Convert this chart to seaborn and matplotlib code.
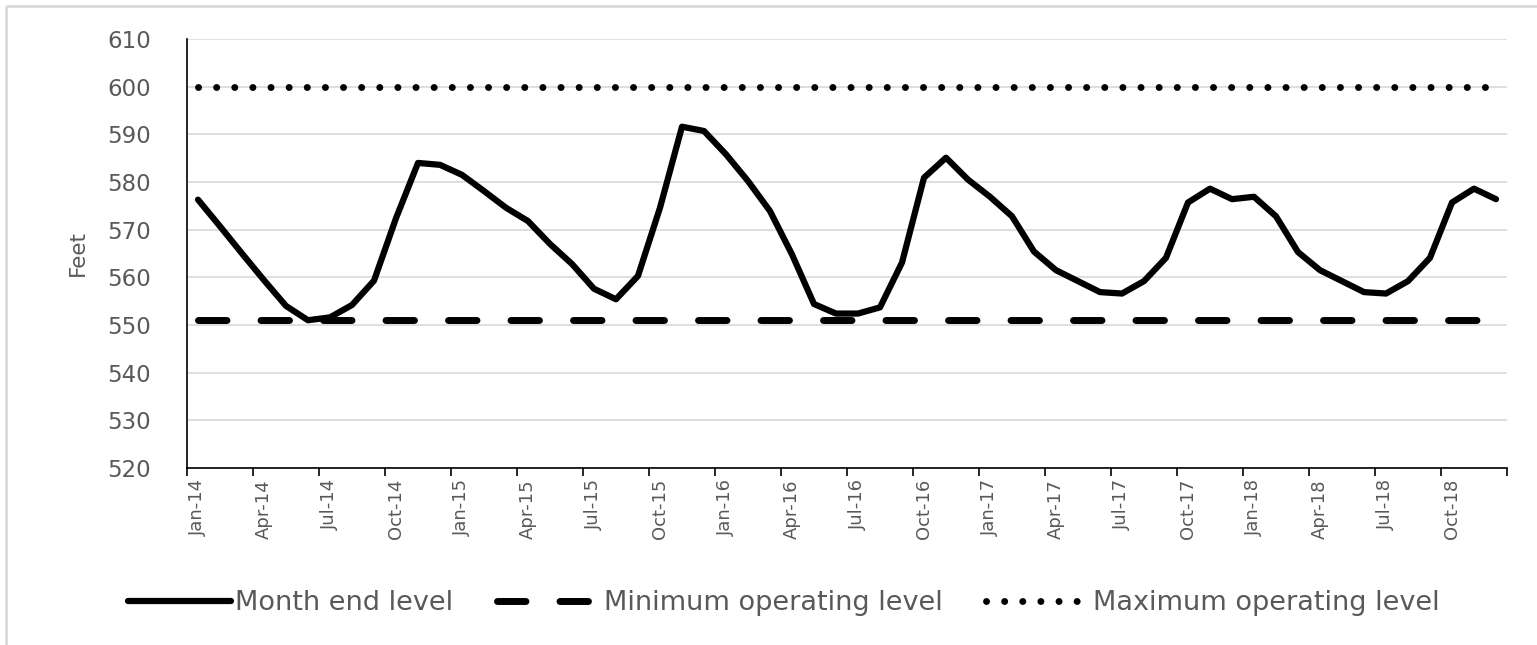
import matplotlib
matplotlib.use("Agg")
import matplotlib.pyplot as plt
from matplotlib.lines import Line2D
import numpy as np
import pandas as pd
import seaborn as sns

# ---- data ----
months = pd.date_range("2014-01-01", periods=60, freq="MS")
month_labels = [d.strftime("%b-%y") for d in months]

month_end_level = [
    576.3, 570.7, 565.0, 559.4, 554.0, 551.0, 551.6, 554.2, 559.3, 572.4, 584.0, 583.6,   # 2014
    581.5, 578.1, 574.6, 571.8, 567.0, 562.8, 557.6, 555.4, 560.3, 574.6, 591.6, 590.7,   # 2015
    585.8, 580.2, 573.9, 564.8, 554.4, 552.4, 552.4, 553.7, 563.1, 580.9, 585.1, 580.5,   # 2016
    576.9, 572.8, 565.4, 561.5, 559.2, 556.9, 556.6, 559.2, 564.1, 575.7, 578.6, 576.4,   # 2017
    576.9, 572.8, 565.3, 561.5, 559.2, 556.9, 556.6, 559.2, 564.1, 575.7, 578.6, 576.4,   # 2018
]
min_operating = [551] * 60
max_operating = [600] * 60

y_ticks = [520, 530, 540, 550, 560, 570, 580, 590, 600, 610]

df = pd.DataFrame({
    "idx": np.arange(len(month_labels)),
    "Month end level": month_end_level,
    "Minimum operating level": min_operating,
    "Maximum operating level": max_operating,
})

# ---- style ----
sns.set_theme(style="white")
plt.rcParams["font.family"] = ["DejaVu Sans"]
GRAY = "#595959"

fig = plt.figure(figsize=(15.37, 6.45), dpi=100, facecolor="white",
                 edgecolor="white", linewidth=0)
ax = fig.add_axes([187 / 1537, 1 - 468 / 645, (1507 - 187) / 1537, (468 - 39) / 645])

sns.lineplot(data=df, x="idx", y="Month end level", ax=ax, color="black",
             lw=4.5, label="Month end level", solid_joinstyle="round",
             solid_capstyle="round", zorder=3)
sns.lineplot(data=df, x="idx", y="Minimum operating level", ax=ax, color="black",
             lw=5.0, linestyle=(0, (4.1, 4.9)), dash_capstyle="round",
             label="Minimum operating level", zorder=4)
sns.lineplot(data=df, x="idx", y="Maximum operating level", ax=ax, color="black",
             lw=5.0, linestyle=(0, (0.01, 2.6)), dash_capstyle="round",
             label="Maximum operating level", zorder=4)

# ---- axes ----
ax.set_xlim(-0.5, len(month_labels) - 0.5)
ax.set_ylim(y_ticks[0], y_ticks[-1])
ax.set_yticks(y_ticks)
ax.yaxis.grid(True, color="#d9d9d9", lw=1.2)
ax.xaxis.grid(False)
ax.set_axisbelow(True)

# tick marks at category boundaries every 3 months, labels at category centres
ax.set_xticks(np.arange(-0.5, len(month_labels), 3))
ax.set_xticklabels([])
ax.set_xticks(np.arange(0, len(month_labels), 3), minor=True)
ax.set_xticklabels(month_labels[::3], minor=True, rotation=90,
                   fontsize=13, color=GRAY)
ax.tick_params(axis="x", which="major", length=6, width=1.2, color="black",
               direction="out", bottom=True)
ax.tick_params(axis="x", which="minor", length=0, pad=8)
ax.tick_params(axis="y", length=0, labelsize=16.5, labelcolor=GRAY, pad=26)

for s in ["top", "right"]:
    ax.spines[s].set_visible(False)
for s in ["left", "bottom"]:
    ax.spines[s].set_color("black")
    ax.spines[s].set_linewidth(1.2)

ax.set_xlabel("")
ax.set_ylabel("Feet", fontsize=15.5, color=GRAY, labelpad=14)

ax.legend(loc="center", bbox_to_anchor=(784 / 1537, 1 - 603 / 645),
          bbox_transform=fig.transFigure, ncol=3, frameon=False,
          fontsize=19.5, labelcolor=GRAY, handlelength=3.8,
          handletextpad=0.15, columnspacing=1.6)

# chart border (light gray frame, only top and left edges are inside the image)
bx, by = 6 / 1537, 1 - 6 / 645
fig.add_artist(Line2D([bx, 1.01], [by, by], transform=fig.transFigure,
                      color="#d9d9d9", lw=2.0, solid_capstyle="butt"))
fig.add_artist(Line2D([bx, bx], [-0.01, by], transform=fig.transFigure,
                      color="#d9d9d9", lw=2.0, solid_capstyle="butt"))

fig.savefig("out.png", dpi=100, facecolor="white", edgecolor="none")
